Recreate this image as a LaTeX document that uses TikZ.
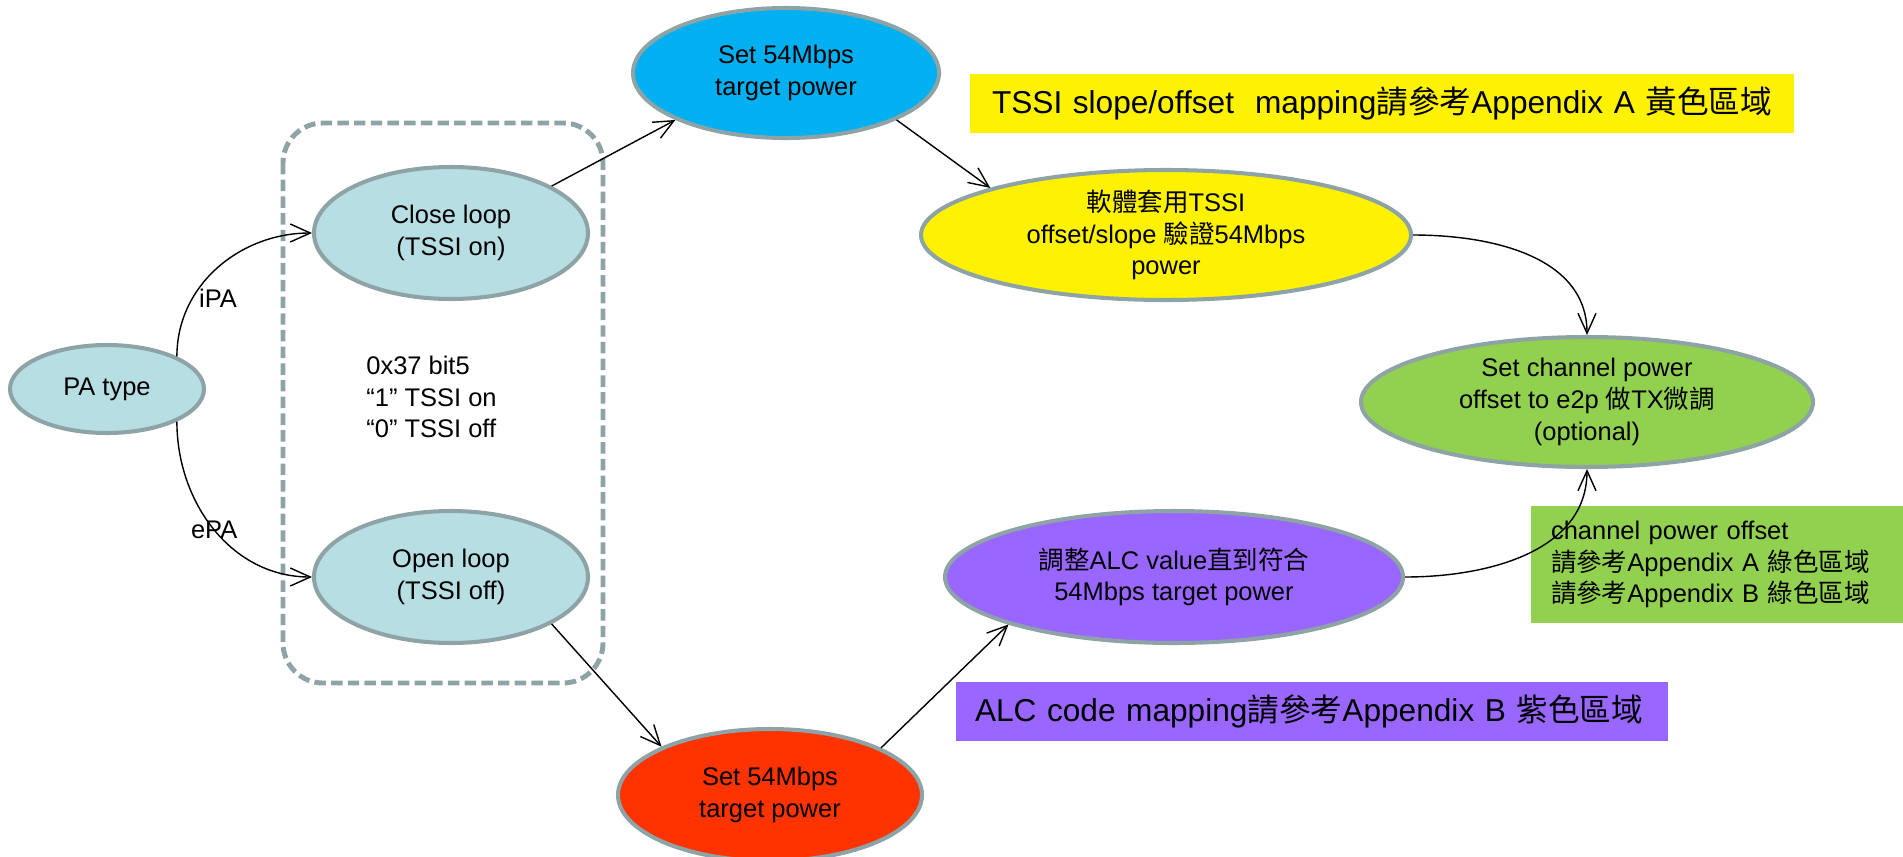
\documentclass[tikz,border=0pt]{standalone}
\usepackage{fontspec}
\setmainfont{Liberation Sans}
\newfontfamily\cjk{Noto Sans CJK TC}
\newcommand{\zh}[1]{{\cjk #1}}
\usetikzlibrary{shapes.geometric,arrows.meta}
\definecolor{rim}{RGB}{141,163,166}
\definecolor{paleblue}{RGB}{183,222,226}
\definecolor{skyblue}{RGB}{0,176,240}
\definecolor{redorange}{RGB}{255,51,0}
\definecolor{leafgreen}{RGB}{146,208,80}
\definecolor{violetfill}{RGB}{153,102,255}

\begin{document}
\begin{tikzpicture}[
    font=\fontsize{14.5}{18}\selectfont,
    st/.style={ellipse,draw=rim,line width=2.3pt,inner sep=0pt,align=center},
    note/.style={align=left,inner ysep=0pt,font=\fontsize{18}{21}\selectfont},
    link/.style={-{Straight Barb[length=4mm,width=3.6mm]},line width=0.8pt}]
  \useasboundingbox (0,0) rectangle (38.06,-17.14);
  % TSSI switch frame
  \draw[rim,line width=2.8pt,dash pattern=on 6.5pt off 3pt,rounded corners=0.8cm]
    (5.66,-2.46) rectangle (12.06,-13.66);
  \node[anchor=west,align=left,inner sep=0pt] (bit) at (7.32,-7.94)
    {0x37 bit5\\``1'' TSSI on\\``0'' TSSI off};

  \node[st,fill=paleblue,minimum width=3.88cm,minimum height=1.76cm] (pa) at (2.14,-7.78) {PA type};
  \node[st,fill=paleblue,minimum width=5.48cm,minimum height=2.64cm] (close) at (9.02,-4.66) {Close loop\\(TSSI on)};
  \node[st,fill=paleblue,minimum width=5.48cm,minimum height=2.64cm] (open) at (9.02,-11.54) {Open loop\\(TSSI off)};
  \node[st,fill=skyblue,minimum width=6.12cm,minimum height=2.60cm] (tgtA) at (15.72,-1.46) {Set 54Mbps\\target power};
  \node[st,fill=redorange,minimum width=6.08cm,minimum height=2.64cm] (tgtB) at (15.40,-15.90) {Set 54Mbps\\target power};
  \node[st,fill=yellow,minimum width=9.80cm,minimum height=2.60cm] (verify) at (23.32,-4.70)
    {\zh{軟體套用}TSSI\\offset/slope \zh{驗證}54Mbps\\power};
  \node[st,fill=violetfill,minimum width=9.16cm,minimum height=2.64cm] (alc) at (23.48,-11.54)
    {\zh{調整}ALC value\zh{直到符合}\\54Mbps target power};
  \node[st,fill=leafgreen,minimum width=9.04cm,minimum height=2.60cm] (chpwr) at (31.74,-8.04)
    {Set channel power\\offset to e2p \zh{做}TX\zh{微調}\\(optional)};

  % reference notes
  \node[note,fill=yellow,text width=15.6cm,inner xsep=0.44cm,minimum height=1.18cm] (mapA) at (27.64,-2.07)
    {TSSI slope/offset~ mapping\zh{請參考}Appendix A \zh{黃色區域}};
  \node[note,fill=violetfill,text width=13.48cm,inner xsep=0.38cm,minimum height=1.18cm] (mapB) at (26.24,-14.23)
    {ALC code mapping\zh{請參考}Appendix B \zh{紫色區域}};
  \node[fill=leafgreen,align=left,text width=6.64cm,inner xsep=0.40cm,inner ysep=0pt,minimum height=2.34cm] (chnote) at (34.34,-11.29)
    {channel power offset\\\zh{請參考}Appendix A \zh{綠色區域}\\\zh{請參考}Appendix B \zh{綠色區域}};

  \draw[link] (pa.25) to[out=90,in=180] node[pos=0.3,right] {iPA} (close.west);
  \draw[link] (pa.-25) to[out=-90,in=180] node[pos=0.5] {ePA} (open.west);
  \draw[link] (close.25) -- (tgtA.203);
  \draw[link] (tgtA.-23) -- (verify.165);
  \draw[link] (open.-25) -- (tgtB.156);
  \draw[link] (tgtB.23) -- (alc.196);
  \draw[link] (verify.east) to[out=0,in=90] (chpwr.north);
  \draw[link] (alc.east) to[out=0,in=-90] (chpwr.south);
\end{tikzpicture}
\end{document}
